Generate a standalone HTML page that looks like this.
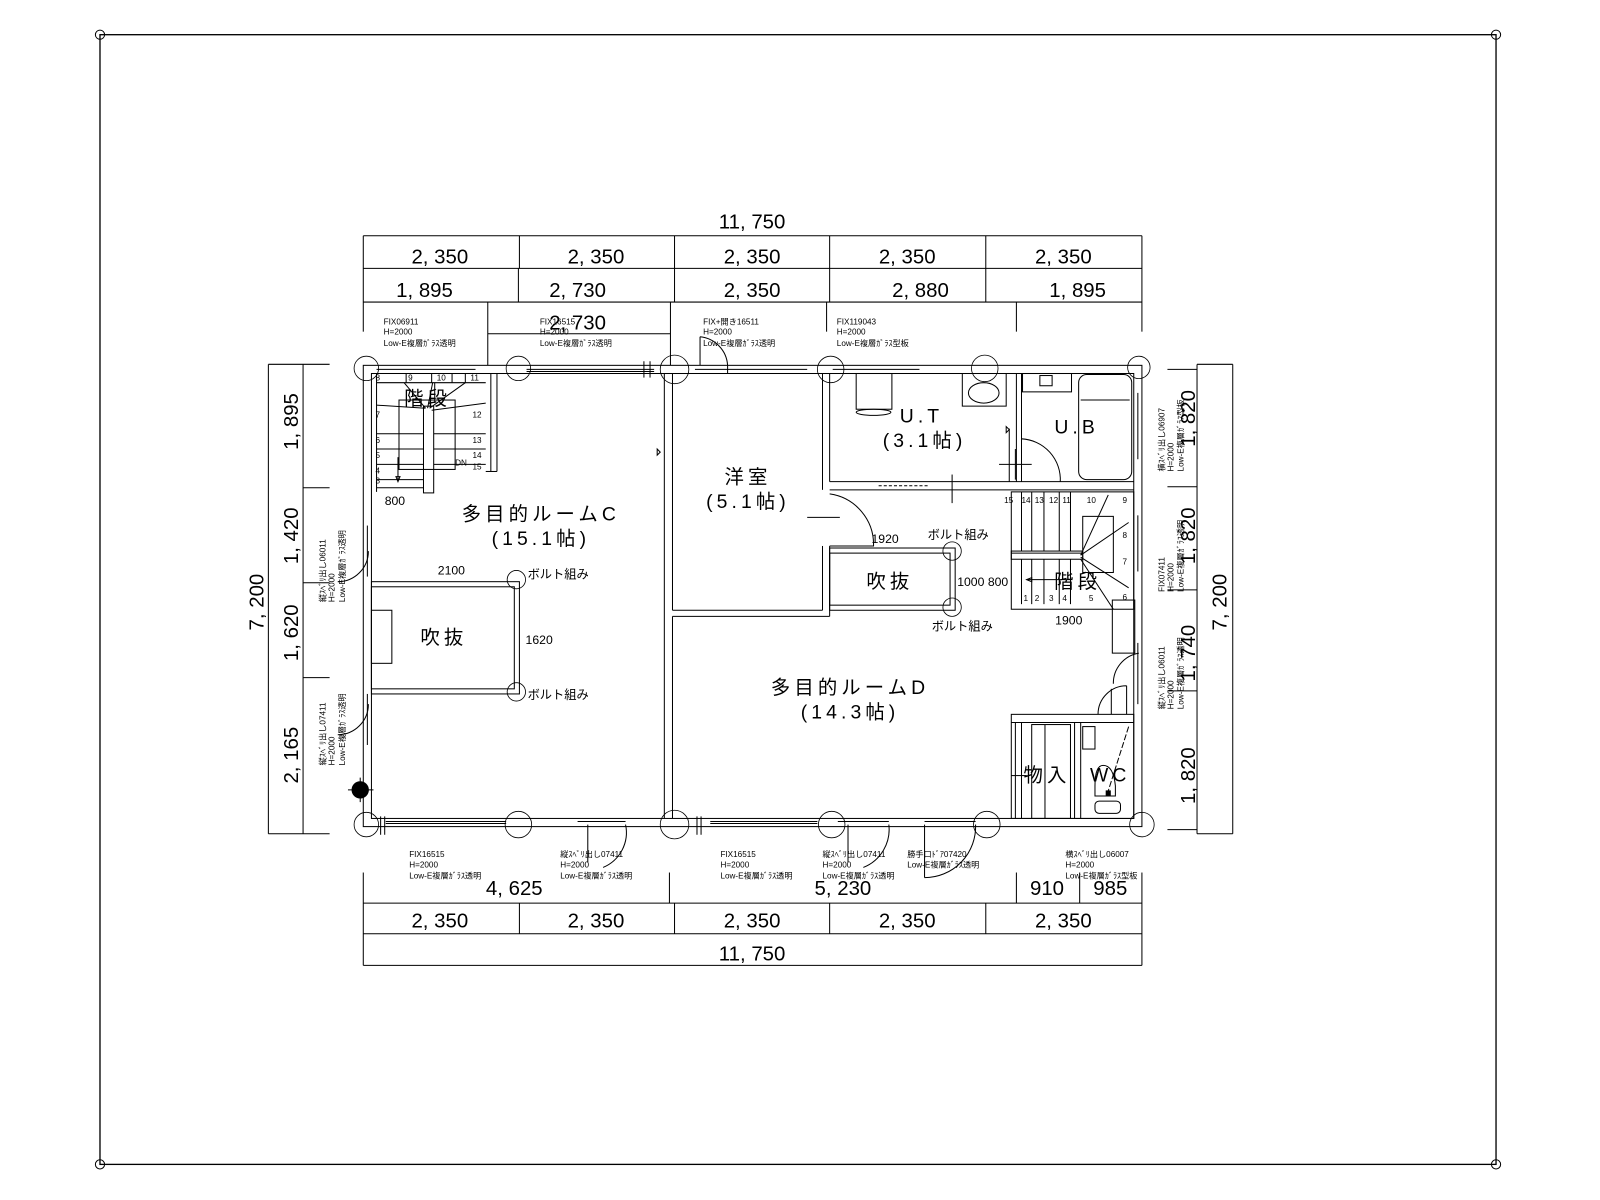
<!DOCTYPE html>
<html><head><meta charset="utf-8"><style>
html,body{margin:0;padding:0;background:#fff;width:1600px;height:1200px;overflow:hidden}
svg{display:block}
text{font-family:"Liberation Sans","Noto Sans CJK JP",sans-serif;fill:#000}
.d{font-size:20px}
.s{font-size:8px}
.r{font-size:19px;letter-spacing:4px}
.n{font-size:8px}
</style></head><body>
<svg width="1600" height="1200" viewBox="0 0 1600 1200" xmlns="http://www.w3.org/2000/svg">
<g transform="translate(1,0) scale(1.0205)" fill="none" stroke="#000" stroke-width="1">
<rect x="97" y="34" width="1368" height="1107" stroke-width="1.3"/>
<circle cx="97" cy="34" r="4.5"/><circle cx="1465" cy="34" r="4.5"/><circle cx="97" cy="1141" r="4.5"/><circle cx="1465" cy="1141" r="4.5"/>

<line x1="355" y1="231" x2="1118" y2="231"/>
<line x1="355" y1="263" x2="1118" y2="263"/>
<line x1="355" y1="296" x2="1118" y2="296"/>
<line x1="355" y1="231" x2="355" y2="325"/><line x1="1118" y1="231" x2="1118" y2="325"/>
<line x1="508" y1="231" x2="508" y2="263"/><line x1="660" y1="231" x2="660" y2="263"/><line x1="812" y1="231" x2="812" y2="263"/><line x1="965" y1="231" x2="965" y2="263"/>
<line x1="507" y1="263" x2="507" y2="296"/><line x1="660" y1="263" x2="660" y2="296"/><line x1="812" y1="263" x2="812" y2="296"/><line x1="965" y1="263" x2="965" y2="296"/>
<line x1="477" y1="296" x2="477" y2="358"/><line x1="656" y1="296" x2="656" y2="358"/><line x1="809" y1="296" x2="809" y2="325"/><line x1="995" y1="296" x2="995" y2="325"/>
<line x1="477" y1="327" x2="656" y2="327"/>

<line x1="355" y1="885" x2="1118" y2="885"/>
<line x1="355" y1="915" x2="1118" y2="915"/>
<line x1="355" y1="946" x2="1118" y2="946"/>
<line x1="355" y1="855" x2="355" y2="946"/><line x1="1118" y1="855" x2="1118" y2="946"/>
<line x1="655" y1="855" x2="655" y2="885"/><line x1="995" y1="855" x2="995" y2="885"/><line x1="1057" y1="855" x2="1057" y2="885"/>
<line x1="508" y1="885" x2="508" y2="915"/><line x1="660" y1="885" x2="660" y2="915"/><line x1="812" y1="885" x2="812" y2="915"/><line x1="965" y1="885" x2="965" y2="915"/>

<line x1="262" y1="357" x2="262" y2="817"/>
<line x1="296" y1="357" x2="296" y2="817"/>
<line x1="262" y1="357" x2="322" y2="357"/><line x1="262" y1="817" x2="322" y2="817"/>
<line x1="296" y1="478" x2="322" y2="478"/><line x1="296" y1="571" x2="322" y2="571"/><line x1="296" y1="664" x2="322" y2="664"/>
<line x1="1207" y1="357" x2="1207" y2="817"/>
<line x1="1172" y1="357" x2="1172" y2="817"/>
<line x1="1172" y1="357" x2="1207" y2="357"/><line x1="1172" y1="817" x2="1207" y2="817"/>
<line x1="1143" y1="362" x2="1172" y2="362"/><line x1="1143" y1="813" x2="1172" y2="813"/>
<line x1="1143" y1="477" x2="1172" y2="477"/><line x1="1143" y1="578" x2="1172" y2="578"/><line x1="1143" y1="677" x2="1172" y2="677"/>

<rect x="355" y="358" width="763" height="452"/>
<rect x="363" y="366" width="747" height="436"/>
<line x1="515" y1="362" x2="640" y2="362"/><line x1="515" y1="364" x2="640" y2="364"/>
<line x1="680" y1="362" x2="790" y2="362"/><line x1="712" y1="358" x2="712" y2="366"/>
<line x1="815" y1="362" x2="900" y2="362"/>
<line x1="368" y1="362" x2="465" y2="362"/>
<line x1="630" y1="354" x2="630" y2="370"/><line x1="636" y1="354" x2="636" y2="370"/>
<line x1="377" y1="805" x2="495" y2="805"/><line x1="377" y1="807" x2="495" y2="807"/>
<line x1="565" y1="805" x2="612" y2="805"/>
<line x1="695" y1="805" x2="800" y2="805"/><line x1="695" y1="807" x2="800" y2="807"/>
<line x1="820" y1="805" x2="870" y2="805"/>
<line x1="905" y1="805" x2="955" y2="805"/>
<line x1="372" y1="800" x2="372" y2="818"/><line x1="376" y1="800" x2="376" y2="818"/>
<line x1="682" y1="800" x2="682" y2="818"/><line x1="686" y1="800" x2="686" y2="818"/>
<line x1="359" y1="515" x2="359" y2="565"/><line x1="359" y1="680" x2="359" y2="730"/>
<path d="M360,540 A30,30 0 0 1 330,570"/><path d="M360,690 A30,30 0 0 1 330,720"/>
<line x1="1114" y1="385" x2="1114" y2="450"/><line x1="1114" y1="505" x2="1114" y2="560"/><line x1="1114" y1="630" x2="1114" y2="690"/>
<path d="M1115,640 A30,30 0 0 0 1090,670"/>
<path d="M575,808 L575,845 M612,808 A37,37 0 0 1 590,850"/>
<path d="M830,808 L830,845 M870,808 A40,40 0 0 1 845,850"/>
<path d="M905,808 L905,860 M955,808 A50,50 0 0 1 905,860"/>
<path d="M685,358 L685,330 M712,358 A30,30 0 0 0 685,330"/>

<g stroke-width="0.8">
<circle cx="358" cy="361" r="12"/><circle cx="507" cy="361" r="12"/><circle cx="660" cy="362" r="14"/><circle cx="813" cy="362" r="13"/><circle cx="964" cy="361" r="13"/><circle cx="1115" cy="360" r="11"/>
<circle cx="358" cy="808" r="12"/><circle cx="507" cy="808" r="13"/><circle cx="660" cy="808" r="14"/><circle cx="814" cy="808" r="13"/><circle cx="966" cy="808" r="13"/><circle cx="1118" cy="808" r="12"/>
<circle cx="505" cy="568" r="9"/><circle cx="505" cy="678" r="9"/><circle cx="932" cy="540" r="9"/><circle cx="932" cy="595" r="9"/>
</g>
<circle cx="352" cy="774" r="8" fill="#000"/><line x1="340" y1="774" x2="365" y2="774"/><line x1="352" y1="762" x2="352" y2="786"/>

<line x1="650" y1="366" x2="650" y2="802"/><line x1="658" y1="366" x2="658" y2="598"/><line x1="658" y1="604" x2="658" y2="802"/>
<line x1="658" y1="598" x2="805" y2="598"/><line x1="658" y1="604" x2="812" y2="604"/>
<line x1="805" y1="366" x2="805" y2="480"/><line x1="812" y1="366" x2="812" y2="472"/>
<line x1="805" y1="535" x2="805" y2="598"/><line x1="812" y1="535" x2="812" y2="604"/>
<path d="M812,484 A50,50 0 0 1 855,535 L812,535"/><line x1="790" y1="507" x2="822" y2="507"/>
<line x1="812" y1="472" x2="1110" y2="472"/><line x1="812" y1="480" x2="1110" y2="480"/>
<line x1="860" y1="476" x2="910" y2="476" stroke-dasharray="3,2"/>
<line x1="932" y1="465" x2="932" y2="493"/>
<line x1="995" y1="366" x2="995" y2="472"/><line x1="1000" y1="366" x2="1000" y2="472"/>
<line x1="988" y1="420" x2="988" y2="472"/>
<path d="M1000,430 A40,40 0 0 1 1038,472"/><line x1="978" y1="455" x2="1010" y2="455"/><line x1="994" y1="440" x2="994" y2="470"/>
<rect x="838" y="366" width="35" height="35"/><ellipse cx="855" cy="404" rx="17" ry="3"/>
<path d="M942,366 L942,398 L985,398 L985,366"/><ellipse cx="963" cy="385" rx="15" ry="10"/>
<rect x="1001" y="366" width="48" height="18"/><rect x="1018" y="368" width="12" height="10"/>
<rect x="1056" y="367" width="52" height="103" rx="8"/><line x1="1058" y1="392" x2="1106" y2="392"/>
<rect x="990" y="482" width="120" height="115"/>
<line x1="990" y1="542" x2="1060" y2="542"/><rect x="990" y="540" width="70" height="8"/>
<line x1="1000" y1="482" x2="1000" y2="540"/><line x1="1010" y1="482" x2="1010" y2="540"/><line x1="1022" y1="482" x2="1022" y2="540"/><line x1="1037" y1="482" x2="1037" y2="540"/><line x1="1048" y1="482" x2="1048" y2="540"/>
<line x1="1000" y1="548" x2="1000" y2="592"/><line x1="1010" y1="548" x2="1010" y2="592"/><line x1="1022" y1="548" x2="1022" y2="592"/><line x1="1037" y1="548" x2="1037" y2="592"/><line x1="1048" y1="548" x2="1048" y2="592"/>
<line x1="1058" y1="544" x2="1085" y2="485"/><line x1="1058" y1="544" x2="1105" y2="512"/><line x1="1058" y1="546" x2="1105" y2="576"/><line x1="1058" y1="548" x2="1090" y2="597"/>
<rect x="1060" y="506" width="30" height="55"/>
<line x1="1050" y1="568" x2="1005" y2="568"/><path d="M1005,568 l5,-2 v4 z"/>
<rect x="1089" y="588" width="22" height="52"/>
<rect x="812" y="537" width="123" height="61"/><rect x="812" y="542" width="118" height="51"/>
<line x1="368" y1="366" x2="368" y2="482"/>
<line x1="480" y1="366" x2="480" y2="462"/><line x1="486" y1="366" x2="486" y2="462"/><line x1="475" y1="462" x2="486" y2="462"/>
<line x1="422" y1="366" x2="422" y2="375"/><line x1="442" y1="366" x2="442" y2="375"/>
<rect x="414" y="398" width="10" height="85"/>
<rect x="390" y="392" width="55" height="68"/>
<line x1="368" y1="425" x2="414" y2="425"/><line x1="368" y1="440" x2="414" y2="440"/><line x1="368" y1="455" x2="414" y2="455"/><line x1="368" y1="470" x2="414" y2="470"/><line x1="368" y1="478" x2="414" y2="478"/>
<line x1="424" y1="425" x2="475" y2="425"/><line x1="424" y1="440" x2="475" y2="440"/><line x1="424" y1="455" x2="475" y2="455"/>
<line x1="368" y1="375" x2="475" y2="375"/><line x1="397" y1="375" x2="397" y2="366"/><line x1="425" y1="375" x2="425" y2="395"/><line x1="455" y1="375" x2="455" y2="366"/>
<line x1="416" y1="400" x2="368" y2="397"/><line x1="416" y1="400" x2="395" y2="375"/><line x1="418" y1="400" x2="423" y2="375"/><line x1="420" y1="400" x2="455" y2="375"/><line x1="422" y1="402" x2="475" y2="395"/>
<line x1="389" y1="448" x2="389" y2="470"/><path d="M389,472 l-2,-5 h4 z"/>
<rect x="363" y="570" width="145" height="110"/><rect x="363" y="575" width="140" height="100"/>
<rect x="363" y="598" width="20" height="52"/>
<rect x="990" y="700" width="120" height="102"/>
<line x1="990" y1="708" x2="1110" y2="708"/>
<line x1="994" y1="708" x2="994" y2="802"/><line x1="1000" y1="708" x2="1000" y2="802"/>
<rect x="1010" y="710" width="38" height="92"/><line x1="1023" y1="710" x2="1023" y2="802"/>
<line x1="1052" y1="708" x2="1052" y2="802"/><line x1="1058" y1="708" x2="1058" y2="802"/>
<rect x="1060" y="712" width="12" height="22"/>
<path d="M1080,750 q10,0 12,20 v10 h-20 v-10 q0,-20 8,-20z"/><rect x="1072" y="785" width="25" height="12" rx="4"/>
<rect x="1083" y="775" width="4" height="4" fill="#000"/>
<line x1="1105" y1="712" x2="1085" y2="775" stroke-dasharray="6,2"/>
<path d="M1103,700 L1103,672 M1075,700 A28,28 0 0 1 1103,672"/><line x1="1088" y1="675" x2="1088" y2="700"/>
<line x1="990" y1="760" x2="1005" y2="760"/>
<path d="M643,440 l3,3 -3,3z"/><path d="M985,418 l3,3 -3,3z"/>
</g>

<g transform="translate(1,0) scale(1.0205)">
<g class="d" text-anchor="middle">
<text x="736" y="224">11, 750</text>
<text x="430" y="258">2, 350</text><text x="583" y="258">2, 350</text><text x="736" y="258">2, 350</text><text x="888" y="258">2, 350</text><text x="1041" y="258">2, 350</text>
<text x="415" y="291">1, 895</text><text x="565" y="291">2, 730</text><text x="736" y="291">2, 350</text><text x="901" y="291">2, 880</text><text x="1055" y="291">1, 895</text>
<text x="565" y="323">2, 730</text>
<text x="503" y="877">4, 625</text><text x="825" y="877">5, 230</text><text x="1025" y="877">910</text><text x="1087" y="877">985</text>
<text x="430" y="909">2, 350</text><text x="583" y="909">2, 350</text><text x="736" y="909">2, 350</text><text x="888" y="909">2, 350</text><text x="1041" y="909">2, 350</text>
<text x="736" y="941">11, 750</text>
<text transform="translate(257,590) rotate(-90)">7, 200</text>
<text transform="translate(291,413) rotate(-90)">1, 895</text>
<text transform="translate(291,525) rotate(-90)">1, 420</text>
<text transform="translate(291,620) rotate(-90)">1, 620</text>
<text transform="translate(291,740) rotate(-90)">2, 165</text>
<text transform="translate(1170,410) rotate(-90)">1, 820</text>
<text transform="translate(1170,525) rotate(-90)">1, 820</text>
<text transform="translate(1170,640) rotate(-90)">1, 740</text>
<text transform="translate(1170,760) rotate(-90)">1, 820</text>
<text transform="translate(1201,590) rotate(-90)">7, 200</text>
</g>
<g class="s">
<text x="375" y="318">FIX06911</text><text x="375" y="328">H=2000</text><text x="375" y="339">Low-E複層ｶﾞﾗｽ透明</text>
<text x="528" y="318">FIX16515</text><text x="528" y="328">H=2000</text><text x="528" y="339">Low-E複層ｶﾞﾗｽ透明</text>
<text x="688" y="318">FIX+開き16511</text><text x="688" y="328">H=2000</text><text x="688" y="339">Low-E複層ｶﾞﾗｽ透明</text>
<text x="819" y="318">FIX119043</text><text x="819" y="328">H=2000</text><text x="819" y="339">Low-E複層ｶﾞﾗｽ型板</text>
<text x="400" y="840">FIX16515</text><text x="400" y="850">H=2000</text><text x="400" y="861">Low-E複層ｶﾞﾗｽ透明</text>
<text x="548" y="840">縦ｽﾍﾞﾘ出し07411</text><text x="548" y="850">H=2000</text><text x="548" y="861">Low-E複層ｶﾞﾗｽ透明</text>
<text x="705" y="840">FIX16515</text><text x="705" y="850">H=2000</text><text x="705" y="861">Low-E複層ｶﾞﾗｽ透明</text>
<text x="805" y="840">縦ｽﾍﾞﾘ出し07411</text><text x="805" y="850">H=2000</text><text x="805" y="861">Low-E複層ｶﾞﾗｽ透明</text>
<text x="888" y="840">勝手口ﾄﾞｱ07420</text><text x="888" y="850">Low-E複層ｶﾞﾗｽ透明</text>
<text x="1043" y="840">横ｽﾍﾞﾘ出し06007</text><text x="1043" y="850">H=2000</text><text x="1043" y="861">Low-E複層ｶﾞﾗｽ型板</text>
<g transform="translate(318,590) rotate(-90)"><text x="0" y="0">縦ｽﾍﾞﾘ出し06011</text><text x="0" y="9">H=2000</text><text x="0" y="19">Low-E複層ｶﾞﾗｽ透明</text></g>
<g transform="translate(318,750) rotate(-90)"><text x="0" y="0">縦ｽﾍﾞﾘ出し07411</text><text x="0" y="9">H=2000</text><text x="0" y="19">Low-E複層ｶﾞﾗｽ透明</text></g>
<g transform="translate(1140,462) rotate(-90)"><text x="0" y="0">横ｽﾍﾞﾘ出し06907</text><text x="0" y="9">H=2000</text><text x="0" y="19">Low-E複層ｶﾞﾗｽ型板</text></g>
<g transform="translate(1140,580) rotate(-90)"><text x="0" y="0">FIX07411</text><text x="0" y="9">H=2000</text><text x="0" y="19">Low-E複層ｶﾞﾗｽ透明</text></g>
<g transform="translate(1140,695) rotate(-90)"><text x="0" y="0">縦ｽﾍﾞﾘ出し06011</text><text x="0" y="9">H=2000</text><text x="0" y="19">Low-E複層ｶﾞﾗｽ透明</text></g>
</g>
<g class="r" text-anchor="middle">
<text x="418" y="397">階段</text>
<text x="529" y="510">多目的ルームC</text><text x="529" y="534">(15.1帖)</text>
<text x="434" y="631">吹抜</text>
<text x="732" y="474">洋室</text><text x="732" y="498">(5.1帖)</text>
<text x="902" y="414">U.T</text><text x="905" y="438">(3.1帖)</text>
<text x="1054" y="425">U.B</text>
<text x="871" y="576">吹抜</text>
<text x="1055" y="576">階段</text>
<text x="832" y="680">多目的ルームD</text><text x="832" y="704">(14.3帖)</text>
<text x="1025" y="766">物入</text>
<text x="1087" y="766">WC</text>
</g>
<g style="font-size:12px">
<text x="376" y="495">800</text>
<text x="428" y="563">2100</text>
<text x="514" y="631">1620</text>
<text x="516" y="567">ボルト組み</text>
<text x="516" y="685">ボルト組み</text>
<text x="853" y="532">1920</text>
<text x="908" y="528">ボルト組み</text>
<text x="937" y="574">1000 800</text>
<text x="912" y="618">ボルト組み</text>
<text x="1033" y="612">1900</text>
</g>
<g class="n">
<text x="367" y="373">8</text><text x="399" y="373">9</text><text x="427" y="373">10</text><text x="460" y="373">11</text>
<text x="367" y="409">7</text><text x="462" y="409">12</text>
<text x="367" y="434">6</text><text x="462" y="434">13</text>
<text x="367" y="449">5</text><text x="462" y="449">14</text>
<text x="367" y="464">4</text><text x="462" y="460">15</text><text x="445" y="456">DN</text>
<text x="367" y="474">3</text>
<text x="983" y="493">15</text><text x="1000" y="493">14</text><text x="1013" y="493">13</text><text x="1027" y="493">12</text><text x="1040" y="493">11</text><text x="1064" y="493">10</text><text x="1099" y="493">9</text>
<text x="1099" y="527">8</text><text x="1099" y="553">7</text><text x="1099" y="588">6</text>
<text x="1002" y="589">1</text><text x="1013" y="589">2</text><text x="1027" y="589">3</text><text x="1040" y="589">4</text><text x="1066" y="589">5</text>
</g>
</g>
</svg>
</body></html>
